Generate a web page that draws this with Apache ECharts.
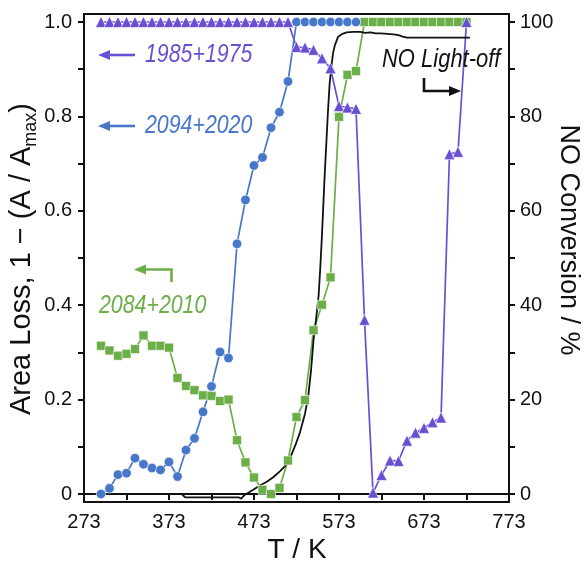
<!DOCTYPE html>
<html>
<head>
<meta charset="utf-8">
<script src="https://cdn.jsdelivr.net/npm/echarts@6/dist/echarts.min.js"></script>
<style>
  html, body { margin: 0; padding: 0; background: #ffffff; }
  #chart { width: 588px; height: 562px; }
</style>
</head>
<body>
<div id="chart"></div>
<script>
// ---- Measured data -------------------------------------------------------
// 2094+2020 : area loss vs temperature
const tempBlue = [293, 303, 313, 323, 333, 343, 353, 363, 373, 383, 393, 403, 413, 423, 433, 443,
                  453, 463, 473, 483, 493, 503, 513, 523, 533, 543, 553, 563, 573, 583, 593];
const lossBlue = [0, 0.012, 0.041, 0.044, 0.076, 0.063, 0.055, 0.051, 0.068, 0.037, 0.093, 0.118,
                  0.174, 0.228, 0.301, 0.288, 0.530, 0.623, 0.696, 0.713, 0.776, 0.809, 0.874,
                  1, 1, 1, 1, 1, 1, 1, 1];

// 1985+1975 : area loss vs temperature
const tempPurple = [293, 303, 313, 323, 333, 343, 353, 363, 373, 383, 393, 403, 413, 423, 433, 443,
                    453, 463, 473, 483, 493, 503, 513, 523, 533, 543, 553, 563, 573, 583, 593, 603,
                    613, 623, 633, 643, 653, 663, 673, 683, 693, 703, 713, 723];
const lossPurple = [1, 1, 1, 1, 1, 1, 1, 1, 1, 1, 1, 1, 1, 1, 1, 1, 1, 1, 1, 1, 1, 1, 1,
                    0.947, 0.946, 0.941, 0.923, 0.902, 0.822, 0.819, 0.816, 0.369,
                    0.003, 0.040, 0.071, 0.070, 0.113, 0.130, 0.140, 0.152, 0.162,
                    0.720, 0.725, 1];

// 2084+2010 : area loss vs temperature
const tempGreen = [293, 303, 313, 323, 333, 343, 353, 363, 373, 383, 393, 403, 413, 423, 433, 443,
                   453, 463, 473, 483, 493, 503, 513, 523, 533, 543, 553, 563, 573, 583, 593, 603,
                   613, 623, 633, 643, 653, 663, 673, 683, 693, 703, 713, 723];
const lossGreen = [0.314, 0.304, 0.293, 0.297, 0.307, 0.336, 0.314, 0.314, 0.310, 0.246, 0.229,
                   0.220, 0.209, 0.208, 0.197, 0.200, 0.114, 0.067, 0.035, 0.009, 0, 0.013, 0.071,
                   0.163, 0.199, 0.347, 0.401, 0.459, 0.799, 0.888, 0.896,
                   1, 1, 1, 1, 1, 1, 1, 1, 1, 1, 1, 1, 1];

// NO light-off curve (conversion, %)
const tempNO = [300, 388, 392, 455, 458, 462, 472, 480, 488, 496, 504, 510, 516, 522, 527, 533,
                537, 540, 543, 546, 549, 551, 553, 556, 558, 560, 562, 564, 566, 568, 572, 577,
                582, 590, 598, 604, 610, 616, 622, 630, 637, 643, 648, 653, 727];
const convNO = [0, 0, -0.7, -0.7, -1.0, -0.2, 0.9, 1.8, 2.6, 3.6, 4.9, 6.0, 7.8, 10.5, 13, 17,
                21, 26, 32.6, 37, 42, 48, 55, 67, 74, 81, 87, 90.5, 93.4, 95, 96.9, 97.5,
                97.8, 97.9, 97.9, 97.7, 97.8, 97.6, 97.6, 97.5, 97.4, 97.2, 96.9, 96.7, 96.7];

// Axis ticks
const xTicks = [273, 323, 373, 423, 473, 523, 573, 623, 673, 723, 773];
const xLabels = [273, 373, 473, 573, 673, 773];
const yTicks = [0, 0.1, 0.2, 0.3, 0.4, 0.5, 0.6, 0.7, 0.8, 0.9, 1.0];
const yLabels = [0, 0.2, 0.4, 0.6, 0.8, 1.0];
const y2Ticks = [0, 10, 20, 30, 40, 50, 60, 70, 80, 90, 100];
const y2Labels = [0, 20, 40, 60, 80, 100];

// ---- Styling ---------------------------------------------------------------
const FONT = '"Liberation Sans", Arial, sans-serif';
const BLUE = '#4677c9';
const GREEN = '#6cae48';
const PURPLE = '#6a4fd2';
const INK = '#111111';

const pairs = (xs, ys) => xs.map((x, i) => [x, ys[i]]);

const chart = echarts.init(document.getElementById('chart'), null, { renderer: 'canvas' });

const axisBase = {
  axisLine: { show: true, lineStyle: { color: INK, width: 2 } },
  splitLine: { show: false },
  axisLabel: { color: INK, fontSize: 20, fontFamily: FONT },
  axisTick: { show: true, inside: false, length: 6, lineStyle: { color: INK, width: 2 } }
};

function markerSeries(name, xs, ys, color, symbol, size) {
  return {
    name, type: 'line', xAxisIndex: 0, yAxisIndex: 0,
    data: pairs(xs, ys),
    symbol, symbolSize: size,
    showAllSymbol: true,
    lineStyle: { color, width: 1.7 },
    itemStyle: { color, borderColor: '#ffffff', borderWidth: 0.6 },
    emphasis: { disabled: true }
  };
}

// Arrow = polyline shaft + filled triangular head at the last point
function arrow(points, color) {
  const n = points.length;
  const [tx, ty] = points[n - 1];
  const [px, py] = points[n - 2];
  const ang = Math.atan2(ty - py, tx - px);
  const L = 12, W = 5;
  const bx = tx - L * Math.cos(ang), by = ty - L * Math.sin(ang);
  const nx = -Math.sin(ang), ny = Math.cos(ang);
  const shaft = points.slice(0, n - 1).concat([[bx + 2 * Math.cos(ang), by + 2 * Math.sin(ang)]]);
  return [
    { type: 'polyline', shape: { points: shaft }, style: { stroke: color, lineWidth: 2.6, fill: null }, z: 50 },
    { type: 'polygon', shape: { points: [[tx, ty], [bx + nx * W, by + ny * W], [bx - nx * W, by - ny * W]] },
      style: { fill: color }, z: 50 }
  ];
}

function label(text, x, y, color) {
  return {
    type: 'text', x, y, scaleX: 0.82, z: 50,
    style: { text, fill: color, fontSize: 26, fontStyle: 'italic', fontFamily: FONT,
             align: 'left', verticalAlign: 'middle' }
  };
}

const graphics = [].concat(
  label('1985+1975', 145, 55, PURPLE),
  arrow([[135, 55], [98, 55]], PURPLE),
  label('2094+2020', 145, 126, BLUE),
  arrow([[135, 126], [98, 126]], BLUE),
  label('2084+2010', 99, 306, GREEN),
  arrow([[171.5, 282], [171.5, 269.5], [134, 269.5]], GREEN),
  {
    type: 'text', x: 382, y: 60, scaleX: 0.845, z: 50,
    style: { text: 'NO Light-off', fill: INK, fontSize: 26, fontStyle: 'italic', fontFamily: FONT,
             align: 'left', verticalAlign: 'middle' }
  },
  arrow([[424, 78], [424, 91], [461, 91]], INK),
  // axis titles
  {
    type: 'text', x: 297, y: 550, z: 50,
    style: { text: 'T / K', fill: INK, fontSize: 28, fontFamily: FONT, align: 'center', verticalAlign: 'middle' }
  },
  {
    type: 'text', x: 23, y: 259, rotation: Math.PI / 2, z: 50,
    style: {
      text: '{a|Area Loss, 1 − (A / A}{b|max}{a|)}',
      align: 'center', verticalAlign: 'middle',
      rich: {
        a: { fontSize: 29, fontFamily: FONT, fill: INK, lineHeight: 32, verticalAlign: 'top' },
        b: { fontSize: 18, fontFamily: FONT, fill: INK, lineHeight: 18, verticalAlign: 'top', padding: [15, 0, 0, 0] }
      }
    }
  },
  {
    type: 'text', x: 568, y: 240, rotation: -Math.PI / 2, z: 50,
    style: { text: 'NO Conversion / %', fill: INK, fontSize: 27, fontFamily: FONT, align: 'center', verticalAlign: 'middle' }
  }
);

chart.setOption({
  animation: false,
  backgroundColor: '#ffffff',
  grid: { left: 84, right: 79, top: 14, bottom: 60, show: true, borderColor: INK, borderWidth: 2, backgroundColor: 'transparent' },
  xAxis: [{
    ...axisBase,
    type: 'value', min: 273, max: 773,
    axisLabel: { ...axisBase.axisLabel, margin: 10, customValues: xLabels },
    axisTick: { ...axisBase.axisTick, customValues: xTicks }
  }],
  yAxis: [{
    ...axisBase,
    type: 'value', position: 'left', min: -0.01695, max: 1.01695,
    axisLabel: { ...axisBase.axisLabel, margin: 12, customValues: yLabels,
                 formatter: v => (v === 0 ? '0' : v.toFixed(1)) },
    axisTick: { ...axisBase.axisTick, customValues: yTicks }
  }, {
    ...axisBase,
    type: 'value', position: 'right', min: -1.695, max: 101.695,
    axisLabel: { ...axisBase.axisLabel, margin: 11, customValues: y2Labels },
    axisTick: { ...axisBase.axisTick, customValues: y2Ticks }
  }],
  series: [
    markerSeries('2084+2010', tempGreen, lossGreen, GREEN, 'rect', 9),
    markerSeries('1985+1975', tempPurple, lossPurple, PURPLE, 'triangle', 11),
    markerSeries('2094+2020', tempBlue, lossBlue, BLUE, 'circle', 9.5),
    {
      name: 'NO conversion', type: 'line', xAxisIndex: 0, yAxisIndex: 1,
      data: pairs(tempNO, convNO),
      showSymbol: false, symbol: 'none',
      lineStyle: { color: INK, width: 1.8 },
      emphasis: { disabled: true }
    }
  ],
  graphic: graphics
});
</script>
</body>
</html>
